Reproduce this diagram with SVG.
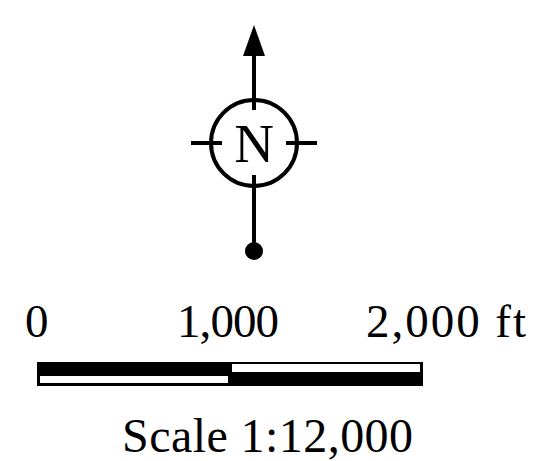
<svg xmlns="http://www.w3.org/2000/svg" width="554" height="461" viewBox="0 0 554 461">
<style>
.ln{stroke:#000;stroke-width:4;fill:none}
.t{font-family:"Liberation Serif","Times New Roman",serif;fill:#000}
</style>
<rect width="554" height="461" fill="#fff"/>
<g id="north-arrow">
<line class="ln" x1="254" y1="50" x2="254" y2="110"/>
<polygon points="254,25 243,56 265,56" fill="#000"/>
<circle class="ln" cx="254" cy="143" r="43"/>
<line class="ln" x1="191" y1="143" x2="222" y2="143"/>
<line class="ln" x1="286" y1="143" x2="317" y2="143"/>
<line class="ln" x1="254" y1="175" x2="254" y2="250"/>
<circle cx="254" cy="251" r="9" fill="#000"/>
<text class="t" x="254" y="162" font-size="55" text-anchor="middle">N</text>
</g>
<g id="scale-bar">
<rect x="37" y="362" width="386" height="24" fill="#000"/>
<rect x="40" y="376" width="188" height="7" fill="#fff"/>
<rect x="232" y="364" width="188" height="8" fill="#fff"/>
<text class="t" x="25" y="337" font-size="47">0</text>
<text class="t" x="177" y="337" font-size="47" textLength="102">1,000</text>
<text class="t" x="366" y="337" font-size="47" textLength="160">2,000 ft</text>
<text class="t" x="122" y="452" font-size="48" textLength="291">Scale 1:12,000</text>
</g>
</svg>
